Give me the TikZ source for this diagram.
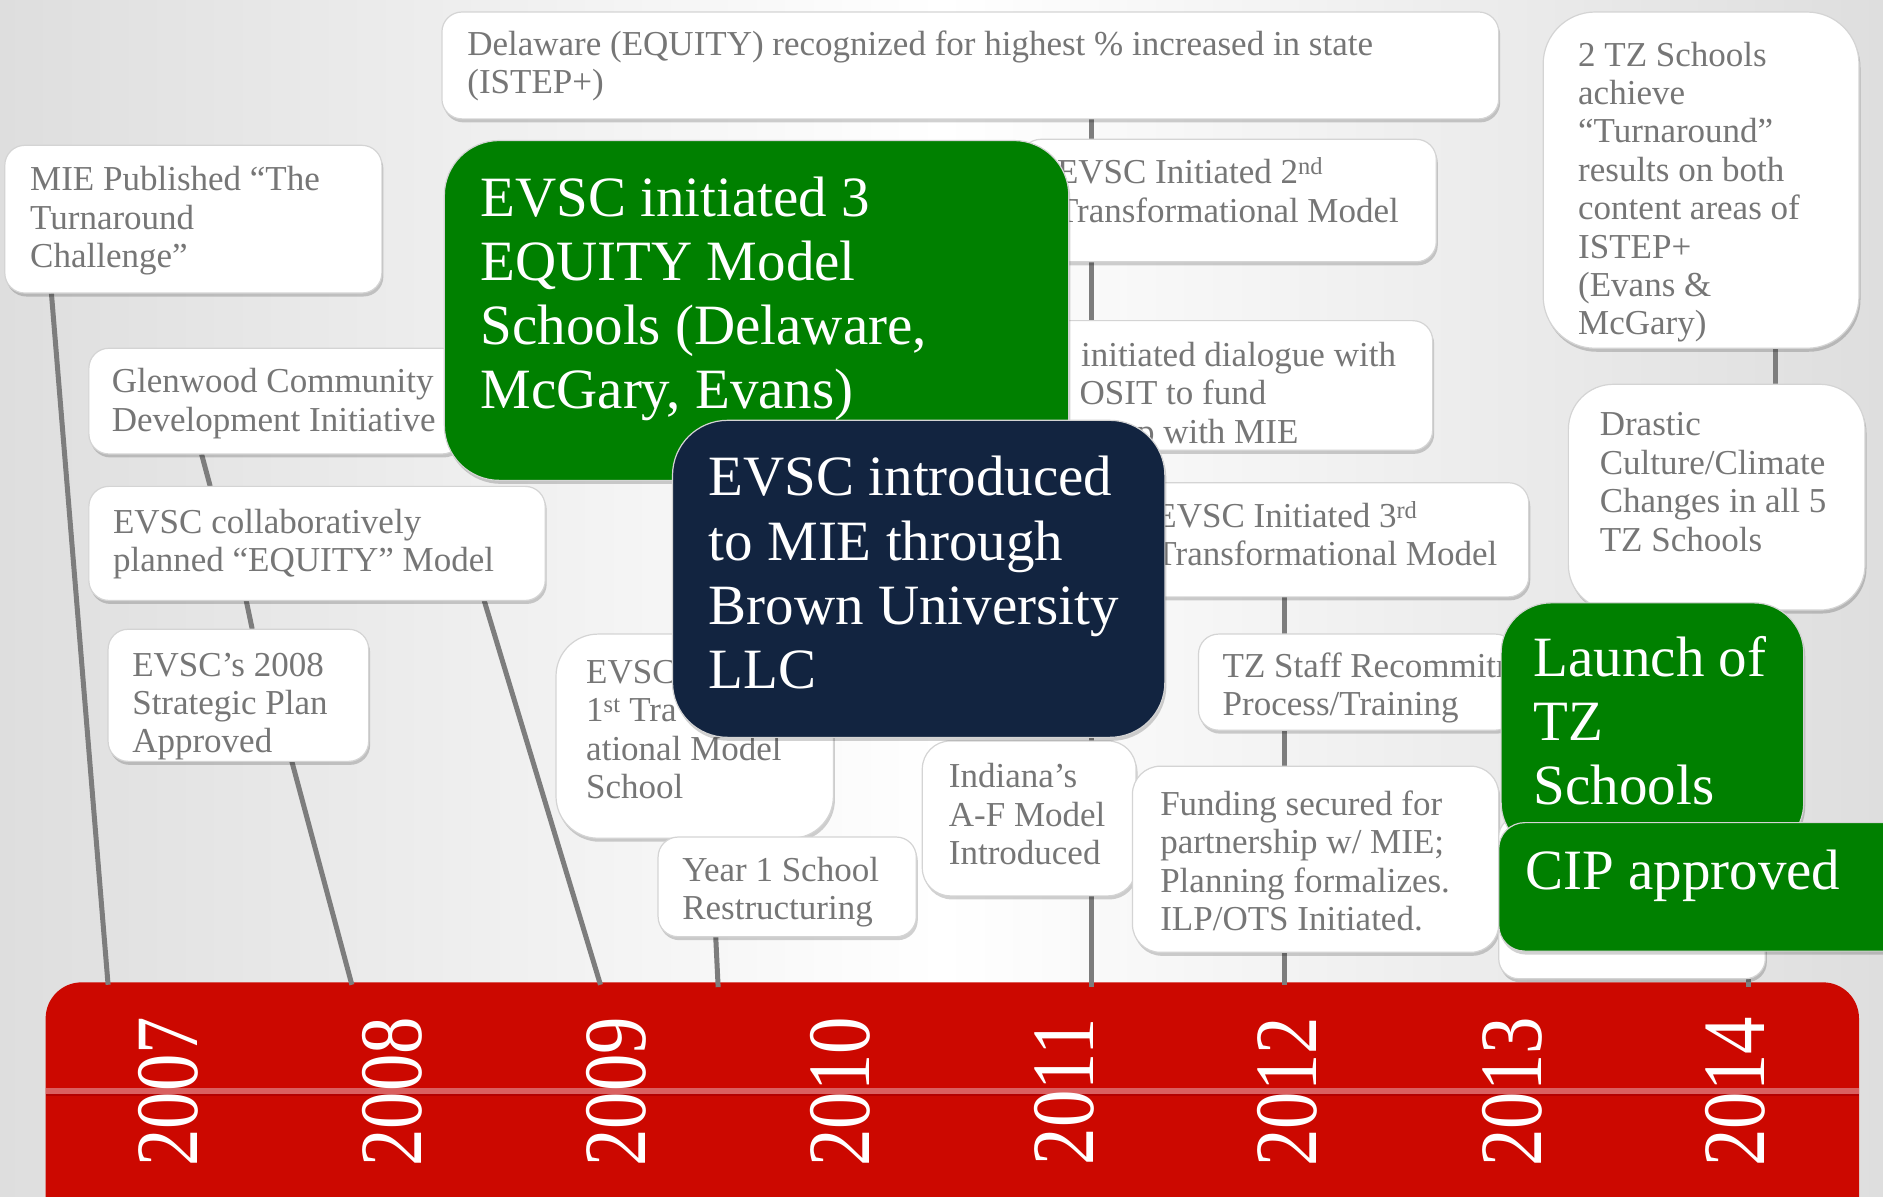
\documentclass[tikz,border=0pt]{standalone}
\usepackage{fontspec}
\setmainfont{Liberation Serif}
\usepackage{graphicx}
\usetikzlibrary{fit,shadows,calc}
\definecolor{textgray}{RGB}{118,118,118}
\definecolor{boxline}{RGB}{212,212,212}
\definecolor{conncol}{RGB}{125,125,125}
\definecolor{evgreen}{RGB}{0,128,0}
\definecolor{evnavy}{RGB}{18,36,64}
\definecolor{barred}{RGB}{204,8,0}
\definecolor{stripelight}{RGB}{218,96,96}
\definecolor{stripedark}{RGB}{180,0,0}
\definecolor{bgedge}{RGB}{222,222,222}
\newcommand\boxlines[1]{\begin{tabular}[t]{@{}l@{}}#1\end{tabular}}
\begin{document}
\begin{tikzpicture}[x=1.2009pt,y=-1.2009pt,
  shadowed/.style={drop shadow={shadow xshift=1.5pt, shadow yshift=-3.5pt, fill=black, opacity=0.18}},
  wbox/.style={shadowed, draw=boxline, line width=1.2pt, fill=white, rounded corners=20pt, inner sep=0pt},
  wboxr/.style={wbox, rounded corners=52pt},
  gbox/.style={shadowed, draw=boxline, line width=1.2pt, fill=evgreen, rounded corners=55pt, inner sep=0pt},
  nbox/.style={shadowed, draw=boxline, line width=1.2pt, fill=evnavy, rounded corners=55pt, inner sep=0pt},
  smalltxt/.style={anchor=base west, inner sep=0pt, text=textgray, font=\fontsize{35}{38.4}\selectfont},
  bigtxt/.style={anchor=base west, inner sep=0pt, text=white, font=\fontsize{57}{64.2}\selectfont},
  conn/.style={draw=conncol, line width=5pt},
  yeartxt/.style={rotate=90, text=white, font=\fontsize{89}{89}\selectfont, inner sep=0pt}]
\useasboundingbox (0,0) rectangle (1568,996);
\clip (0,0) rectangle (1568,996);
\shade[left color=bgedge, right color=bgedge, middle color=white] (0,0) rectangle (1568,996);

% timeline bar
\node[fill=barred, rounded corners=36pt, inner sep=0pt, fit={(38,818) (1548,1040)}] (bar) {};
\fill[stripelight] (38,906) rectangle (1548,911);
\fill[stripedark] (38,911) rectangle (1548,913);
\foreach \yr/\xx in {2007/140,2008/327,2009/513,2010/700,2011/886,2012/1072,2013/1259,2014/1445}
  \node[yeartxt] (y\yr) at (\xx,909) {\scalebox{0.84}[1]{\yr}};

% attachment points on the bar
\coordinate (c07) at (90,820);
\coordinate (c08) at (293,820);
\coordinate (c09) at (500,820);
\coordinate (c10) at (598,822);
\coordinate (c11) at (909,822);
\coordinate (c12) at (1070,820);
\coordinate (c14) at (1456,822);

% box frames (helpers for connectors)
\node[inner sep=0pt, fit={(4,121) (318,244)}] (mieF) {};
\node[inner sep=0pt, fit={(74,290) (385,378)}] (glenF) {};
\node[inner sep=0pt, fit={(74,405) (454,500)}] (collabF) {};
\node[inner sep=0pt, fit={(90,524) (307,634)}] (s08F) {};
\node[inner sep=0pt, fit={(548,697) (763,780)}] (yearF) {};
\node[inner sep=0pt, fit={(368,10) (1248,99)}] (delF) {};
\node[inner sep=0pt, fit={(950,402) (1273,497)}] (thirdF) {};
\node[inner sep=0pt, fit={(1285,10) (1548,290)}] (tzF) {};
\node[inner sep=0pt, fit={(1306,320) (1553,508)}] (drF) {};
\node[inner sep=0pt, fit={(1248,680) (1470,815)}] (wbF) {};

% connectors
\draw[conn] ($(mieF.south west)!0.124!(mieF.south east)$) -- (c07);
\draw[conn] ($(glenF.south west)!0.302!(glenF.south east)$) -- ($(collabF.north west)!0.266!(collabF.north east)$);
\draw[conn] ($(collabF.south west)!0.345!(collabF.south east)$) -- ($(s08F.north west)!0.553!(s08F.north east)$);
\draw[conn] ($(s08F.south west)!0.705!(s08F.south east)$) -- (c08);
\draw[conn] ($(collabF.south west)!0.866!(collabF.south east)$) -- (c09);
\draw[conn] (yearF.south -| 596,0) -- (c10);
\draw[conn] (delF.south -| c11) -- (c11);
\draw[conn] (thirdF.south -| c12) -- (c12);
\coordinate (p14) at ($(tzF.south west)!0.734!(tzF.south east)$);
\draw[conn] (p14) -- (drF.north -| p14);
\draw[conn] (wbF.south -| c14) -- (c14);

% boxes
\node[wbox, fit={(368,10) (1248,99)}] (del) {};
\node[smalltxt] (delT) at (389,46) {\boxlines{Delaware (EQUITY) recognized for highest \% increased in state\\(ISTEP+)}};

\node[wbox, fit={(4,121) (318,244)}] (mie) {};
\node[smalltxt] (mieT) at (25,159) {\boxlines{MIE Published ``The\\Turnaround\\Challenge''}};

\node[wbox, fit={(74,290) (385,378)}] (glen) {};
\node[smalltxt] (glenT) at (93,327) {\boxlines{Glenwood Community\\Development Initiative}};

\node[wbox, fit={(74,405) (454,500)}] (collab) {};
\node[smalltxt] (collabT) at (94,444) {\boxlines{EVSC collaboratively\\planned ``EQUITY'' Model}};

\node[wbox, fit={(90,524) (307,634)}] (s08) {};
\node[smalltxt] (s08T) at (110,563) {\boxlines{EVSC's 2008\\Strategic Plan\\Approved}};

\node[wbox, fit={(850,116) (1196,218)}] (second) {};
\node[smalltxt] (secondT) at (880,153) {\boxlines{EVSC Initiated 2\textsuperscript{nd}\\Transformational Model}};

\node[wbox, fit={(820,267) (1193,375)}] (dialog) {};
\node[smalltxt] (dialogT) at (826,305) {\boxlines{\hspace*{2.54em}initiated dialogue with\\\hspace*{2.5em}OSIT to fund\\\hspace*{4.14em}p with MIE}};

\node[wbox, fit={(950,402) (1273,497)}] (third) {};
\node[smalltxt] (thirdT) at (962,439) {\boxlines{EVSC Initiated 3\textsuperscript{rd}\\Transformational Model}};

\node[wboxr, rounded corners=42pt, fit={(463,528) (694,698)}] (first) {};
\node[smalltxt] (firstT) at (488,569) {\boxlines{EVSC\\1\textsuperscript{st} Tra\\ational Model\\School}};

\node[wbox, fit={(548,697) (763,780)}] (year) {};
\node[smalltxt] (yearT) at (568,734) {\boxlines{Year 1 School\\Restructuring}};

\node[wbox, rounded corners=28pt, fit={(768,617) (946,746)}] (indiana) {};
\node[smalltxt] (indianaT) at (790,656) {\boxlines{Indiana's\\A-F Model\\Introduced}};

\node[wbox, fit={(998,528) (1262,608)}] (tzstaff) {};
\node[smalltxt] (tzstaffT) at (1018,564) {\boxlines{TZ Staff Recommitment\\Process/Training}};

\node[wbox, rounded corners=28pt, fit={(943,638) (1248,793)}] (funding) {};
\node[smalltxt] (fundingT) at (966,679) {\boxlines{Funding secured for\\partnership w/ MIE;\\Planning formalizes.\\ILP/OTS Initiated.}};

\node[wboxr, fit={(1285,10) (1548,290)}] (tz) {};
\node[smalltxt] (tzT) at (1314,55) {\boxlines{2 TZ Schools\\achieve\\``Turnaround''\\results on both\\content areas of\\ISTEP+\\(Evans \&\\McGary)}};

\node[wboxr, rounded corners=45pt, fit={(1306,320) (1553,508)}] (drastic) {};
\node[smalltxt] (drasticT) at (1332,363) {\boxlines{Drastic\\Culture/Climate\\Changes in all 5\\TZ Schools}};

\node[wbox, fit={(1248,680) (1470,815)}] (wb) {};

\node[gbox, fit={(370,117) (890,400)}] (green) {};
\node[bigtxt] (greenT) at (400,180) {\boxlines{EVSC initiated 3\\EQUITY Model\\Schools (Delaware,\\McGary, Evans)}};

\node[nbox, fit={(560,350) (970,614)}] (navy) {};
\node[bigtxt] (navyT) at (590,413) {\boxlines{EVSC introduced\\to MIE through\\Brown University\\LLC}};

\node[gbox, rounded corners=50pt, fit={(1250,502) (1502,710)}] (launch) {};
\node[bigtxt] (launchT) at (1277,563) {\boxlines{Launch of\\TZ\\Schools}};

\node[gbox, rounded corners=26pt, fit={(1248,685) (1620,792)}] (cip) {};
\node[bigtxt] (cipT) at (1270,741) {CIP approved};
\end{tikzpicture}
\end{document}
